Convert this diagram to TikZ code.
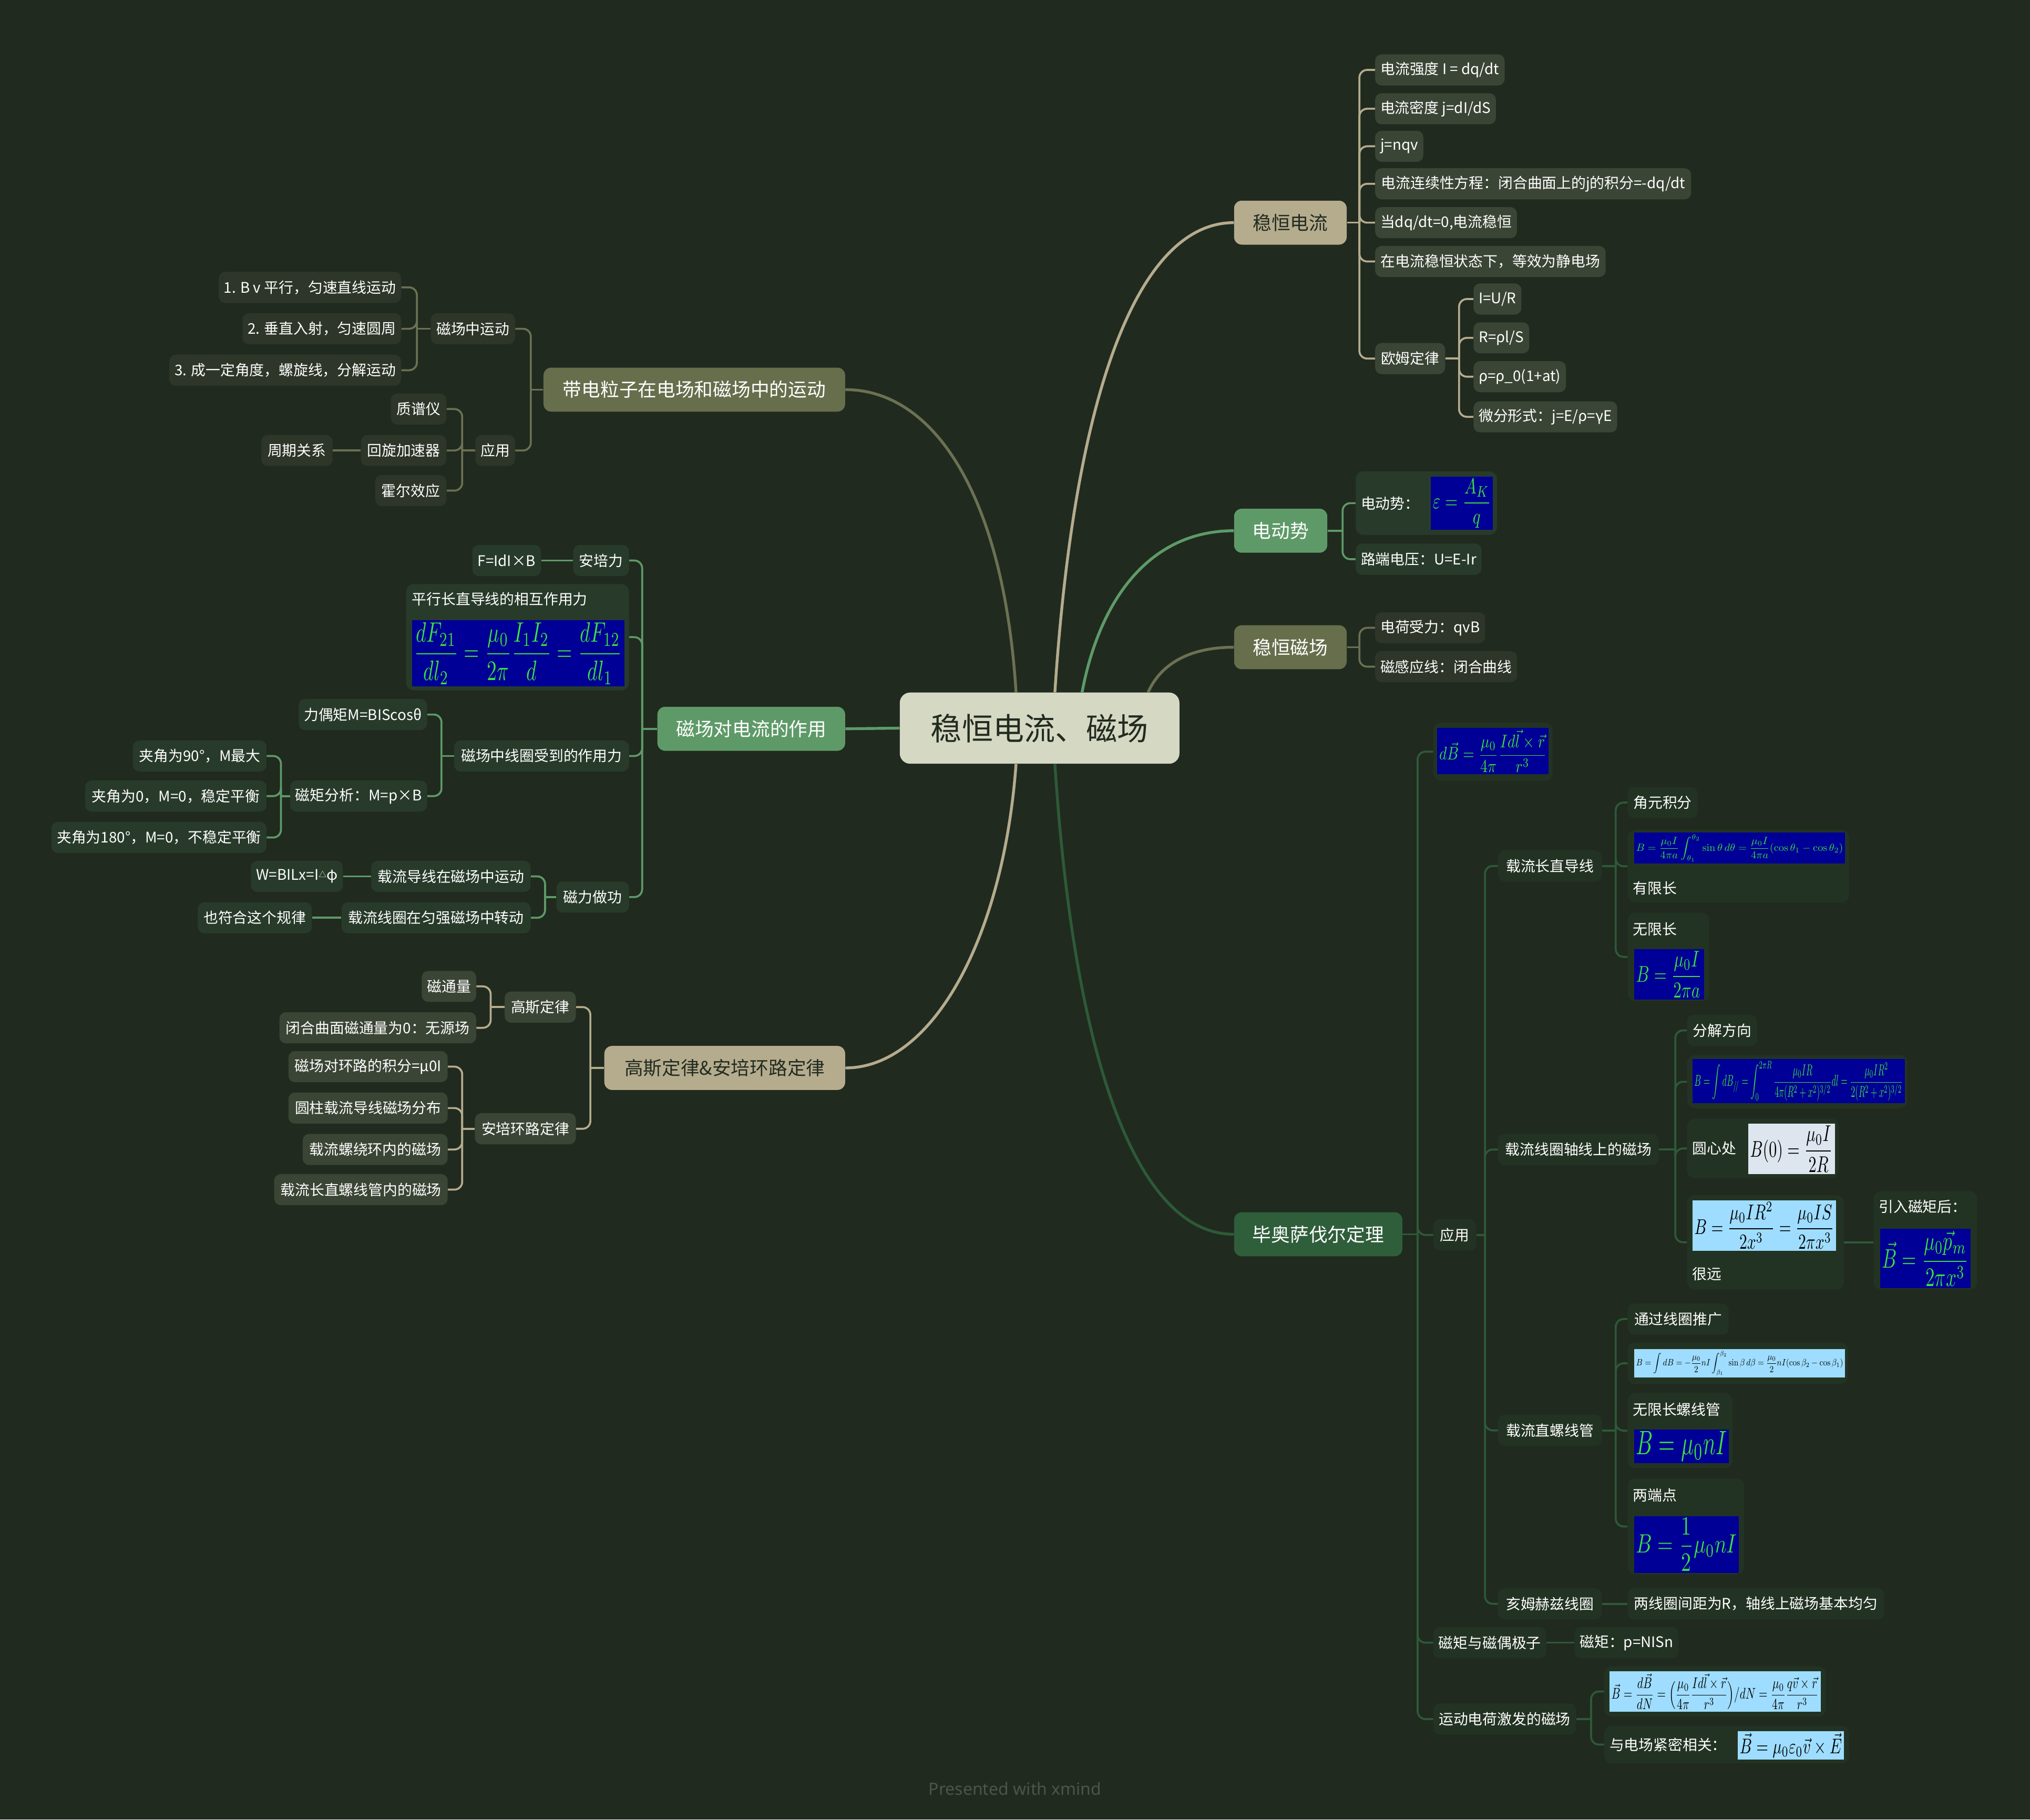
\documentclass[tikz,border=0pt]{standalone}
\usepackage[no-math]{fontspec}
\setmainfont{Noto Sans CJK SC}
\newfontfamily\footfont{Noto Sans}
\usepackage{graphicx}
\usetikzlibrary{calc}
\definecolor{bg}{HTML}{212A1F}
\definecolor{cen}{HTML}{D5D9C3}
\definecolor{dk}{HTML}{222B20}
\definecolor{tanl}{HTML}{B5AC8E}
\definecolor{tanc}{HTML}{3B4535}
\definecolor{oll}{HTML}{6B7152}
\definecolor{olf}{HTML}{666E4C}
\definecolor{olc}{HTML}{2D3628}
\definecolor{grn}{HTML}{5E9A68}
\definecolor{grc}{HTML}{283B2A}
\definecolor{dgl}{HTML}{2D5A38}
\definecolor{dgf}{HTML}{2F5E3B}
\definecolor{dgc}{HTML}{233323}
\definecolor{fbl}{HTML}{000096}
\definecolor{fgr}{HTML}{3DE03D}
\definecolor{flb}{HTML}{9EDDFF}
\definecolor{fwh}{HTML}{DDE6EF}
\definecolor{foot}{HTML}{4B5646}
\newcommand\fsc{\fontsize{11.3}{13}\selectfont}
\newcommand\fsm{\fontsize{14.5}{17}\selectfont}
\newcommand\fsl{\fontsize{24}{28}\selectfont}
\newcommand\fml[7]{%
  \pgfmathsetmacro\myfw{#5-#3}\pgfmathsetmacro\myfh{#6-#4}%
  \pgfmathsetmacro\myiw{#5-#3-3}\pgfmathsetmacro\myih{#6-#4-3}%
  \node[#2, anchor=north west, minimum width=\myfw pt, minimum height=\myfh pt, inner sep=0pt] (#1) at (#3,#4) {\resizebox*{\myiw pt}{\myih pt}{$\displaystyle #7$}};}
\tikzset{
  ch/.style={rounded corners=5pt, inner xsep=4pt, inner ysep=0pt, minimum height=24pt, text=white, font=\fsc},
  tc/.style={ch, fill=tanc}, oc/.style={ch, fill=olc}, gc/.style={ch, fill=grc}, dc/.style={ch, fill=dgc},
  cont/.style={rounded corners=6pt, inner sep=0pt, anchor=north west},
  gcont/.style={cont, fill=grc}, dcont/.style={cont, fill=dgc},
  txt/.style={inner sep=0pt, text=white, font=\fsc, anchor=west},
  mt/.style={rounded corners=6pt, inner xsep=0pt, inner ysep=0pt, minimum height=34pt, font=\fsm, text=white},
  ml/.style={line width=2.2pt},
  tline/.style={draw=tanl, line width=1.5pt, rounded corners=6pt},
  oline/.style={draw=oll, line width=1.5pt, rounded corners=6pt},
  gline/.style={draw=grn, line width=1.5pt, rounded corners=6pt},
  dline/.style={draw=dgl, line width=1.5pt, rounded corners=6pt},
  fblue/.style={fill=fbl, text=fgr},
  flight/.style={fill=flb, text=black},
  fwhite/.style={fill=fwh, text=black}
}
\begin{document}
\begin{tikzpicture}[x=1pt,y=-1pt]
\useasboundingbox (0,0) rectangle (1568,1405.6);
\fill[bg] (0,0) rectangle (1568,1405.6);

% central and main topics
\node[rounded corners=8pt, fill=cen, text=dk, font=\fsl, minimum width=216pt, minimum height=55pt, inner sep=0pt] (C) at (803,562.5) {稳恒电流、磁场};
\node[mt, fill=tanl, text=dk, anchor=west, minimum width=87pt] (A) at (953,172) {稳恒电流};
\node[mt, fill=grn, anchor=west, minimum width=72pt] (B) at (953,410) {电动势};
\node[mt, fill=olf, anchor=west, minimum width=87pt] (D) at (953,500) {稳恒磁场};
\node[mt, fill=dgf, anchor=west, minimum width=130pt] (E) at (953,953.5) {毕奥萨伐尔定理};
\node[mt, fill=olf, anchor=east, minimum width=233pt] (P) at (653,301) {带电粒子在电场和磁场中的运动};
\node[mt, fill=grn, anchor=east, minimum width=145pt] (M) at (653,563) {磁场对电流的作用};
\node[mt, fill=tanl, text=dk, anchor=east, minimum width=186pt] (G) at (653,825) {高斯定律\&安培环路定律};

\coordinate (co1) at ($(C.north west)+(90,0)$);
\coordinate (co2) at ($(C.north west)+(120,0)$);
\coordinate (co3) at ($(C.north west)+(141,0)$);
\coordinate (co4) at ($(C.north west)+(192,0)$);
\coordinate (cu1) at ($(C.south west)+(90,0)$);
\coordinate (cu2) at ($(C.south west)+(120,0)$);
\draw[ml, draw=oll] (co1) .. controls (775,380) and (720,301) .. (P.east);
\draw[ml, draw=tanl] (co2) .. controls (830,300) and (880,172) .. (A.west);
\draw[ml, draw=grn] (co3) .. controls (850,460) and (890,410) .. (B.west);
\draw[ml, draw=oll] (co4) .. controls (897,512) and (920,500) .. (D.west);
\draw[ml, draw=tanl] (cu1) .. controls (775,725) and (720,825) .. (G.east);
\draw[ml, draw=dgl] (cu2) .. controls (830,825) and (880,953.5) .. (E.west);
\draw[ml, draw=grn] (C.west) -- (M.east);

% ---------- 稳恒电流 ----------
\node[tc, anchor=west, minimum width=100pt] (a1) at (1062,54) {电流强度 I = dq/dt};
\node[tc, anchor=west, minimum width=92pt] (a2) at (1062,84) {电流密度 j=dI/dS};
\node[tc, anchor=west, minimum width=36pt] (a3) at (1062,113) {j=nqv};
\node[tc, anchor=west, minimum width=244pt] (a4) at (1062,142) {电流连续性方程：闭合曲面上的j的积分=-dq/dt};
\node[tc, anchor=west, minimum width=109pt] (a5) at (1062,172) {当dq/dt=0,电流稳恒};
\node[tc, anchor=west, minimum width=178pt] (a6) at (1062,202) {在电流稳恒状态下，等效为静电场};
\node[tc, anchor=west, minimum width=54pt] (a7) at (1062,277) {欧姆定律};
\coordinate (ja) at (1050,172);
\draw[tline] (A.east) -- (ja);
\foreach \n in {a1,a2,a3,a4,a5,a6,a7} \draw[tline] (ja) |- (\n.west);
\node[tc, anchor=west, minimum width=36pt] (b1) at (1138,231) {I=U/R};
\node[tc, anchor=west, minimum width=43pt] (b2) at (1138,261) {R=ρl/S};
\node[tc, anchor=west, minimum width=69pt] (b3) at (1138,291) {ρ=ρ\_0(1+at)};
\node[tc, anchor=west, minimum width=110pt] (b4) at (1138,322) {微分形式：j=E/ρ=γE};
\coordinate (jb) at (1127,277);
\draw[tline] (a7.east) -- (jb);
\foreach \n in {b1,b2,b3,b4} \draw[tline] (jb) |- (\n.west);

% ---------- 电动势 ----------
\node[gcont, minimum width=109pt, minimum height=49pt] (c1) at (1047,364) {};
\node[txt] (c1t) at (1051,389) {电动势：};
\fml{c1f}{fblue}{1105}{368}{1153}{409}{\varepsilon=\frac{A_K}{q}}
\node[gc, anchor=west, minimum width=96pt] (c2) at (1047,432) {路端电压：U=E-Ir};
\coordinate (jc) at (1037,410);
\draw[gline] (B.east) -- (jc);
\foreach \n in {c1,c2} \draw[gline] (jc) |- (\n.west);

% ---------- 稳恒磁场 ----------
\node[oc, anchor=west, minimum width=85pt] (d1) at (1062,485) {电荷受力：qvB};
\node[oc, anchor=west, minimum width=109pt] (d2) at (1062,515) {磁感应线：闭合曲线};
\coordinate (jd) at (1050,500);
\draw[oline] (D.east) -- (jd);
\foreach \n in {d1,d2} \draw[oline] (jd) |- (\n.west);

% ---------- 毕奥萨伐尔定理 ----------
\node[dcont, minimum width=92pt, minimum height=45pt] (e1) at (1107,558) {};
\fml{e1f}{fblue}{1110}{562}{1196}{598}{d\vec B=\frac{\mu_0}{4\pi}\frac{Id\vec l\times\vec r}{r^3}}
\node[dc, anchor=west, minimum width=33pt] (e2) at (1107,954) {应用};
\node[dc, anchor=west, minimum width=87pt] (e3) at (1107,1269) {磁矩与磁偶极子};
\node[dc, anchor=west, minimum width=110pt] (e4) at (1107,1328) {运动电荷激发的磁场};
\coordinate (je) at (1095,953.5);
\draw[dline] (E.east) -- (je);
\foreach \n in {e1,e2,e3,e4} \draw[dline] (je) |- (\n.west);

\node[dc, anchor=west, minimum width=80pt] (f1) at (1157,669) {载流长直导线};
\node[dc, anchor=west, minimum width=124pt] (f2) at (1157,888) {载流线圈轴线上的磁场};
\node[dc, anchor=west, minimum width=80pt] (f3) at (1157,1105) {载流直螺线管};
\node[dc, anchor=west, minimum width=80pt] (f4) at (1157,1239) {亥姆赫兹线圈};
\coordinate (jf) at (1147,954);
\draw[dline] (e2.east) -- (jf);
\foreach \n in {f1,f2,f3,f4} \draw[dline] (jf) |- (\n.west);

% 载流长直导线
\node[dc, anchor=west, minimum width=54pt] (g1) at (1257,620) {角元积分};
\node[dcont, minimum width=171pt, minimum height=56pt] (g2) at (1257,641) {};
\fml{g2f}{fblue}{1262}{643}{1425}{667}{B=\frac{\mu_0 I}{4\pi a}\int_{\theta_1}^{\theta_2}\sin\theta\,d\theta=\frac{\mu_0 I}{4\pi a}(\cos\theta_1-\cos\theta_2)}
\node[txt] (g2t) at (1261,686) {有限长};
\node[dcont, minimum width=63pt, minimum height=68pt] (g3) at (1257,705) {};
\node[txt] (g3t) at (1261,718) {无限长};
\fml{g3f}{fblue}{1262}{733}{1316}{772}{B=\frac{\mu_0 I}{2\pi a}}
\coordinate (jg) at (1248,669);
\draw[dline] (f1.east) -- (jg);
\foreach \n in {g1,g2,g3} \draw[dline] (jg) |- (\n.west);

% 载流线圈轴线上的磁场
\node[dc, anchor=west, minimum width=54pt] (h1) at (1303,796) {分解方向};
\node[dcont, minimum width=170pt, minimum height=41pt] (h2) at (1303,815) {};
\fml{h2f}{fblue}{1307}{818}{1471}{852}{B=\int dB_{/\!/}=\int_0^{2\pi R}\frac{\mu_0 IR}{4\pi(R^2+x^2)^{3/2}}dl=\frac{\mu_0 IR^2}{2(R^2+x^2)^{3/2}}}
\node[dcont, minimum width=117pt, minimum height=46pt] (h3) at (1303,864) {};
\node[txt] (h3t) at (1307,887) {圆心处};
\fml{h3f}{fwhite}{1350}{868}{1417}{907}{B(0)=\frac{\mu_0 I}{2R}}
\node[dcont, minimum width=121pt, minimum height=73pt] (h4) at (1303,923) {};
\fml{h4f}{flight}{1307}{927}{1418}{966}{B=\frac{\mu_0 IR^2}{2x^3}=\frac{\mu_0 IS}{2\pi x^3}}
\node[txt] (h4t) at (1307,984) {很远};
\node[dcont, minimum width=80pt, minimum height=76pt] (h5) at (1447,920) {};
\node[txt] (h5t) at (1451,932) {引入磁矩后：};
\fml{h5f}{fblue}{1452}{949}{1522}{995}{\vec B=\frac{\mu_0\vec p_m}{2\pi x^3}}
\coordinate (jh) at (1294,888);
\draw[dline] (f2.east) -- (jh);
\foreach \n in {h1,h2,h3,h4} \draw[dline] (jh) |- (\n.west);
\draw[dline] (h4.east) -- (h4.east -| h5.west);

% 载流直螺线管
\node[dc, anchor=west, minimum width=78pt] (k1) at (1257,1019) {通过线圈推广};
\node[dcont, minimum width=170pt, minimum height=32pt] (k2) at (1257,1037) {};
\fml{k2f}{flight}{1262}{1042}{1425}{1064}{B=\int dB=-\frac{\mu_0}{2}nI\int_{\beta_1}^{\beta_2}\sin\beta\,d\beta=\frac{\mu_0}{2}nI(\cos\beta_2-\cos\beta_1)}
\node[dcont, minimum width=81pt, minimum height=58pt] (k3) at (1257,1076) {};
\node[txt] (k3t) at (1261,1089) {无限长螺线管};
\fml{k3f}{fblue}{1262}{1104}{1335}{1130}{B=\mu_0 nI}
\node[dcont, minimum width=90pt, minimum height=74pt] (k4) at (1257,1142) {};
\node[txt] (k4t) at (1261,1155) {两端点};
\fml{k4f}{fblue}{1262}{1171}{1343}{1215}{B=\frac{1}{2}\mu_0 nI}
\coordinate (jk) at (1248,1105);
\draw[dline] (f3.east) -- (jk);
\foreach \n in {k1,k2,k3,k4} \draw[dline] (jk) |- (\n.west);

\node[dc, anchor=west, minimum width=198pt] (m1) at (1257,1239) {两线圈间距为R，轴线上磁场基本均匀};
\draw[dline] (f4.east) -- (m1.west);
\node[dc, anchor=west, minimum width=78pt] (n1) at (1216,1269) {磁矩：p=NISn};
\draw[dline] (e3.east) -- (n1.west);

\node[dcont, minimum width=171pt, minimum height=39pt] (p1) at (1239,1287) {};
\fml{p1f}{flight}{1243}{1291}{1406}{1322}{\vec B=\frac{d\vec B}{dN}=\Bigl(\frac{\mu_0}{4\pi}\frac{Id\vec l\times\vec r}{r^3}\Bigr)/dN=\frac{\mu_0}{4\pi}\frac{q\vec v\times\vec r}{r^3}}
\node[dcont, minimum width=189pt, minimum height=29pt] (p2) at (1239,1333) {};
\node[txt] (p2t) at (1243,1348) {与电场紧密相关：};
\fml{p2f}{flight}{1342}{1337}{1424}{1359}{\vec B=\mu_0\varepsilon_0\vec v\times\vec E}
\coordinate (jp) at (1229,1328);
\draw[dline] (e4.east) -- (jp);
\foreach \n in {p1,p2} \draw[dline] (jp) |- (\n.west);

% ---------- 带电粒子在电场和磁场中的运动 ----------
\node[oc, anchor=east, minimum width=65pt] (q1) at (398,254) {磁场中运动};
\node[oc, anchor=east, minimum width=30pt] (q2) at (398,348) {应用};
\coordinate (jq) at (410,301);
\draw[oline] (P.west) -- (jq);
\foreach \n in {q1,q2} \draw[oline] (jq) |- (\n.east);
\node[oc, anchor=east, minimum width=140pt] (r1) at (310,222) {1. B v 平行，匀速直线运动};
\node[oc, anchor=east, minimum width=122pt] (r2) at (310,254) {2. 垂直入射，匀速圆周};
\node[oc, anchor=east, minimum width=179pt] (r3) at (310,286) {3. 成一定角度，螺旋线，分解运动};
\coordinate (jr) at (322,254);
\draw[oline] (q1.west) -- (jr);
\foreach \n in {r1,r2,r3} \draw[oline] (jr) |- (\n.east);
\node[oc, anchor=east, minimum width=43pt] (s1) at (345,316) {质谱仪};
\node[oc, anchor=east, minimum width=66pt] (s2) at (345,348) {回旋加速器};
\node[oc, anchor=east, minimum width=55pt] (s3) at (345,379) {霍尔效应};
\node[oc, anchor=east, minimum width=55pt] (s2a) at (257,348) {周期关系};
\coordinate (js) at (357,348);
\draw[oline] (q2.west) -- (js);
\foreach \n in {s1,s2,s3} \draw[oline] (js) |- (\n.east);
\draw[oline] (s2.west) -- (s2a.east);

% ---------- 磁场对电流的作用 ----------
\node[gc, anchor=east, minimum width=43pt] (t1) at (486,433) {安培力};
\node[gc, anchor=east, minimum width=44pt] (t1a) at (418,433) {F=IdI×B};
\draw[gline] (t1.west) -- (t1a.east);
\node[gcont, anchor=north east, minimum width=172pt, minimum height=82pt] (t2) at (486,451) {};
\node[txt] (t2t) at (318,463) {平行长直导线的相互作用力};
\fml{t2f}{fblue}{318}{479}{482}{530}{\frac{dF_{21}}{dl_2}=\frac{\mu_0}{2\pi}\frac{I_1I_2}{d}=\frac{dF_{12}}{dl_1}}
\node[gc, anchor=east, minimum width=135pt] (t3) at (486,584) {磁场中线圈受到的作用力};
\node[gc, anchor=east, minimum width=56pt] (t4) at (486,693) {磁力做功};
\coordinate (jt) at (496,563);
\draw[gline] (M.west) -- (jt);
\foreach \n in {t1,t2,t3,t4} \draw[gline] (jt) |- (\n.east);
\node[gc, anchor=east, minimum width=99pt] (u1) at (330,552) {力偶矩M=BIScosθ};
\node[gc, anchor=east, minimum width=102pt] (u2) at (330,615) {磁矩分析：M=p×B};
\coordinate (ju) at (341,584);
\draw[gline] (t3.west) -- (ju);
\foreach \n in {u1,u2} \draw[gline] (ju) |- (\n.east);
\node[gc, anchor=east, minimum width=103pt] (v1) at (206,584) {夹角为90°，M最大};
\node[gc, anchor=east, minimum width=140pt] (v2) at (206,615) {夹角为0，M=0，稳定平衡};
\node[gc, anchor=east, minimum width=166pt] (v3) at (206,647) {夹角为180°，M=0，不稳定平衡};
\coordinate (jv) at (217,615);
\draw[gline] (u2.west) -- (jv);
\foreach \n in {v1,v2,v3} \draw[gline] (jv) |- (\n.east);
\node[gc, anchor=east, minimum width=123pt] (w1) at (410,677) {载流导线在磁场中运动};
\node[gc, anchor=east, minimum width=146pt] (w2) at (410,709) {载流线圈在匀强磁场中转动};
\coordinate (jw) at (421,693);
\draw[gline] (t4.west) -- (jw);
\foreach \n in {w1,w2} \draw[gline] (jw) |- (\n.east);
\node[gc, anchor=east, minimum width=71pt] (w1a) at (265,677) {W=BILx=I\raisebox{2pt}{\fontsize{6}{6}\selectfont △}φ};
\node[gc, anchor=east, minimum width=88pt] (w2a) at (241,709) {也符合这个规律};
\draw[gline] (w1.west) -- (w1a.east);
\draw[gline] (w2.west) -- (w2a.east);

% ---------- 高斯定律&安培环路定律 ----------
\node[tc, anchor=east, minimum width=55pt] (x1) at (445,778) {高斯定律};
\node[tc, anchor=east, minimum width=78pt] (x2) at (445,872) {安培环路定律};
\coordinate (jx) at (456,825);
\draw[tline] (G.west) -- (jx);
\foreach \n in {x1,x2} \draw[tline] (jx) |- (\n.east);
\node[tc, anchor=east, minimum width=42pt] (y1) at (368,762) {磁通量};
\node[tc, anchor=east, minimum width=152pt] (y2) at (368,794) {闭合曲面磁通量为0：无源场};
\coordinate (jy) at (379,778);
\draw[tline] (x1.west) -- (jy);
\foreach \n in {y1,y2} \draw[tline] (jy) |- (\n.east);
\node[tc, anchor=east, minimum width=123pt] (z1) at (346,824) {磁场对环路的积分=μ0I};
\node[tc, anchor=east, minimum width=123pt] (z2) at (346,856) {圆柱载流导线磁场分布};
\node[tc, anchor=east, minimum width=112pt] (z3) at (346,888) {载流螺绕环内的磁场};
\node[tc, anchor=east, minimum width=134pt] (z4) at (346,919) {载流长直螺线管内的磁场};
\coordinate (jz) at (357,872);
\draw[tline] (x2.west) -- (jz);
\foreach \n in {z1,z2,z3,z4} \draw[tline] (jz) |- (\n.east);

% footer
\node[font=\footfont\fontsize{13}{15}\selectfont, text=foot] (ft) at (784,1382) {Presented with \textbf{xmind}};
\end{tikzpicture}
\end{document}
